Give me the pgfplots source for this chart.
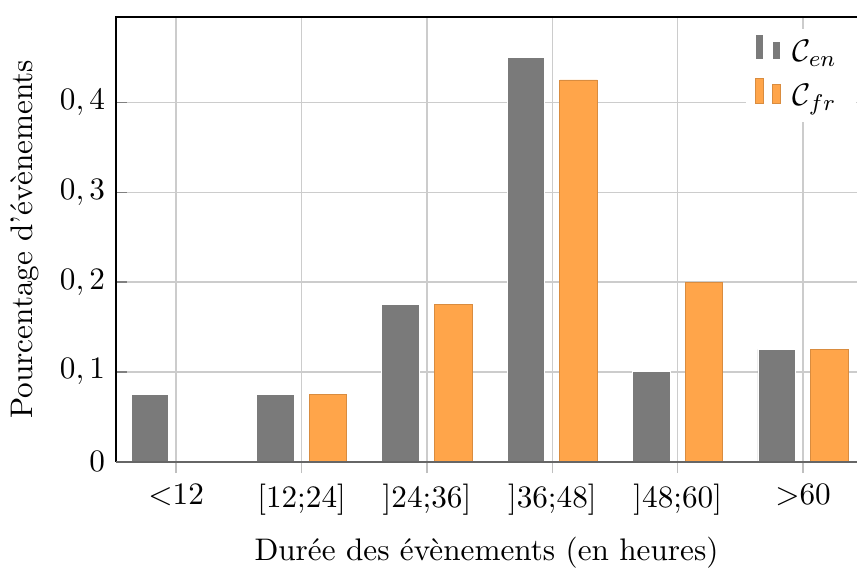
\documentclass[border=0pt,11pt]{standalone}
\usepackage{pgfplots}
\pgfplotsset{compat=1.18}
\definecolor{engray}{RGB}{122,122,122}
\definecolor{frorange}{RGB}{255,165,74}
\begin{document}
\begin{tikzpicture}
\begin{axis}[
    scale only axis,
    width=260pt, height=156pt,
    ymin=0, ymax=0.495,
    xmin=-0.48, xmax=5.43,
    xtick={0,...,5},
    xticklabels={$<$12,{[12;24]},{]24;36]},{]36;48]},{]48;60]},$>$60},
    ytick={0,0.1,0.2,0.3,0.4},
    /pgf/number format/set decimal separator={,},
    grid=major,
    major grid style={gray!40, line width=0.5pt},
    axis line style={draw=none},
    xtick style={gray!50, line width=0.5pt},
    ytick style={gray, line width=0.5pt},
    xtick pos=bottom, ytick pos=left,
    xtick align=outside, ytick align=inside,
    major tick length=4pt,
    xlabel={Durée des évènements (en heures)},
    ylabel={Pourcentage d'évènements},
    legend style={at={(1,0.975)}, anchor=north east, draw=none, fill=white,
        row sep=2pt, nodes={inner xsep=4pt}},
    legend cell align=left,
    bar width=0.3,
    clip=false,
    ]
\addplot[ybar, ybar legend, bar shift=-0.21, fill=engray, draw=white, line width=0.3pt] coordinates {
    (0,0.075) (1,0.075) (2,0.175) (3,0.45) (4,0.1) (5,0.125)
    };
\addplot[ybar, ybar legend, bar shift=0.21, fill=frorange, draw=frorange!85!black, line width=0.3pt] coordinates {
    (0,0.0) (1,0.075) (2,0.175) (3,0.425) (4,0.2) (5,0.125)
    };
\legend{$\mathcal{C}_{en}$,$\mathcal{C}_{fr}$}
\draw[black, line width=0.6pt] (rel axis cs:0,0) -- (rel axis cs:0,1) -- (rel axis cs:1,1);
\draw[black!60, line width=0.7pt] (rel axis cs:0,0) -- (rel axis cs:1,0);
\path (rel axis cs:0,1) ++(0,6pt);
\end{axis}
\end{tikzpicture}
\end{document}
